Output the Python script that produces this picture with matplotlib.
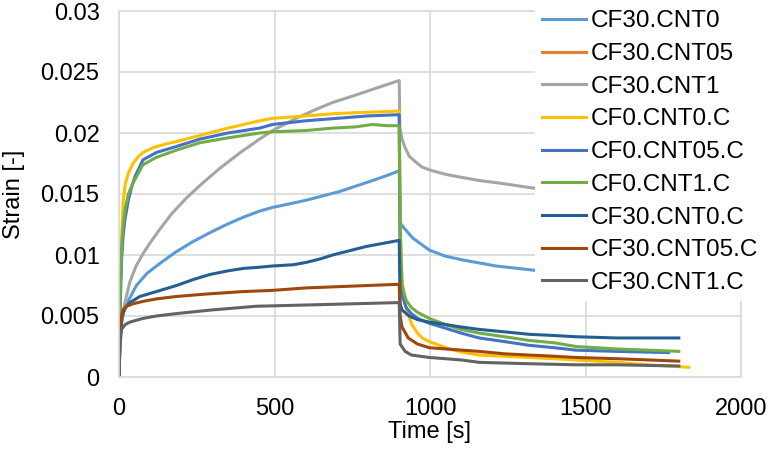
import matplotlib
matplotlib.use("Agg")
import matplotlib.pyplot as plt

plt.rcParams['font.family'] = ['Liberation Sans', 'DejaVu Sans']

# ---- data ----
labels = ["CF30.CNT0", "CF30.CNT05", "CF30.CNT1", "CF0.CNT0.C", "CF0.CNT05.C",
          "CF0.CNT1.C", "CF30.CNT0.C", "CF30.CNT05.C", "CF30.CNT1.C"]
colors = ["#5B9BD5", "#ED7D31", "#A5A5A5", "#FFC000", "#4472C4",
          "#70AD47", "#255E91", "#9E480E", "#636363"]

t_cf30_cnt0 = [0, 5, 15, 35, 56, 90, 131, 180, 238, 290, 346, 400, 452, 494, 550, 603, 709, 815, 860, 901,
               905, 917, 944, 998, 1050, 1104, 1212, 1318, 1450, 1600, 1800]
s_cf30_cnt0 = [0, 0.0040, 0.0053, 0.0065, 0.0075, 0.0085, 0.0093, 0.0102, 0.0111, 0.0118, 0.0125, 0.0131,
               0.0136, 0.0139, 0.0142, 0.0145, 0.0152, 0.0161, 0.0165, 0.0169,
               0.0126, 0.0122, 0.0114, 0.0104, 0.0099, 0.0096, 0.0091, 0.0088, 0.0084, 0.0080, 0.0076]

t_cf30_cnt05 = []
s_cf30_cnt05 = []

t_cf30_cnt1 = [0, 3, 10, 20, 35, 55, 77, 100, 131, 170, 218, 269, 324, 390, 452, 494, 570, 630, 687,
               760, 830, 901, 903, 910, 920, 933, 955, 975, 1008, 1052, 1094, 1160, 1222, 1328,
               1450, 1600, 1800]
s_cf30_cnt1 = [0, 0.0035, 0.0050, 0.0062, 0.0078, 0.0091, 0.0101, 0.0110, 0.0121, 0.0134, 0.0147,
               0.0159, 0.0171, 0.0184, 0.0195, 0.0202, 0.0212, 0.0219, 0.0225, 0.0231, 0.0237, 0.0243,
               0.0205, 0.0195, 0.0188, 0.0181, 0.0176, 0.0172, 0.0169, 0.0166, 0.0164, 0.0161, 0.0159,
               0.0155, 0.0151, 0.0147, 0.0143]

t_cf0_cnt0_c = [0, 3, 8, 13, 20, 30, 45, 60, 77, 110, 150, 185, 260, 350, 452, 494, 600, 700, 800, 901,
                905, 910, 920, 933, 944, 960, 975, 998, 1030, 1062, 1110, 1158, 1240, 1318, 1400, 1469,
                1600, 1700, 1832]
s_cf0_cnt0_c = [0, 0.0060, 0.0110, 0.0143, 0.0158, 0.0167, 0.0175, 0.0180, 0.0184, 0.0188, 0.0191,
                0.0193, 0.0198, 0.0204, 0.0210, 0.0212, 0.0214, 0.0216, 0.0217, 0.0218,
                0.0120, 0.0080, 0.0060, 0.0049, 0.0042, 0.0036, 0.0032, 0.0029, 0.0026, 0.0023, 0.0020,
                0.0018, 0.0017, 0.0016, 0.0015, 0.0014, 0.0012, 0.0010, 0.0008]

t_cf0_cnt05_c = [0, 3, 8, 13, 19, 30, 40, 51, 77, 120, 185, 260, 350, 452, 494, 600, 700, 800, 901,
                 904, 910, 923, 940, 960, 998, 1050, 1100, 1158, 1240, 1318, 1400, 1469, 1600, 1767]
s_cf0_cnt05_c = [0, 0.0050, 0.0095, 0.0115, 0.0129, 0.0145, 0.0155, 0.0164, 0.0178, 0.0184, 0.0189,
                 0.0195, 0.0200, 0.0204, 0.0207, 0.0210, 0.0212, 0.0214, 0.0215,
                 0.0090, 0.0068, 0.0057, 0.0052, 0.0048, 0.0044, 0.0040, 0.0036, 0.0032, 0.0029,
                 0.0026, 0.0024, 0.0022, 0.0021, 0.0020]

t_cf0_cnt1_c = [0, 3, 8, 13, 20, 30, 45, 60, 77, 120, 185, 260, 350, 452, 494, 600, 687, 760, 815,
                860, 901, 904, 910, 923, 940, 960, 998, 1050, 1100, 1158, 1240, 1318, 1400, 1469,
                1600, 1800]
s_cf0_cnt1_c = [0, 0.0060, 0.0105, 0.0123, 0.0138, 0.0150, 0.0159, 0.0166, 0.0174, 0.0180, 0.0186,
                0.0192, 0.0196, 0.0200, 0.0201, 0.0202, 0.0204, 0.0205, 0.0207, 0.0206, 0.0206,
                0.0120, 0.0075, 0.0063, 0.0057, 0.0053, 0.0048, 0.0043, 0.0039, 0.0036, 0.0033,
                0.0030, 0.0028, 0.0025, 0.0023, 0.0021]

t_cf30_cnt0_c = [0, 3, 10, 20, 35, 67, 120, 185, 240, 292, 350, 400, 452, 494, 560, 603, 650, 687, 795, 901,
                 904, 910, 933, 960, 998, 1050, 1100, 1158, 1240, 1318, 1400, 1469, 1600, 1800]
s_cf30_cnt0_c = [0, 0.0030, 0.0050, 0.0057, 0.0061, 0.0066, 0.0070, 0.0075, 0.0080, 0.0084, 0.0087,
                 0.0089, 0.0090, 0.0091, 0.0092, 0.0094, 0.0097, 0.0100, 0.0107, 0.0112,
                 0.0060, 0.0055, 0.0050, 0.0047, 0.0045, 0.0043, 0.0041, 0.0039, 0.0037, 0.0035,
                 0.0034, 0.0033, 0.0032, 0.0032]

t_cf30_cnt05_c = [0, 3, 8, 13, 25, 45, 77, 120, 185, 280, 398, 494, 600, 700, 800, 901,
                  904, 910, 930, 960, 998, 1050, 1158, 1240, 1318, 1400, 1469, 1600, 1800]
s_cf30_cnt05_c = [0, 0.0035, 0.0050, 0.0055, 0.0058, 0.0060, 0.0062, 0.0064, 0.0066, 0.0068, 0.0070,
                  0.0071, 0.0073, 0.0074, 0.0075, 0.0076,
                  0.0050, 0.0041, 0.0032, 0.0027, 0.0024, 0.0023, 0.0021, 0.0019, 0.0018, 0.0017,
                  0.0016, 0.0015, 0.0013]

t_cf30_cnt1_c = [0, 3, 8, 20, 35, 77, 120, 185, 300, 442, 600, 750, 901,
                 904, 920, 940, 998, 1100, 1158, 1300, 1469, 1600, 1800]
s_cf30_cnt1_c = [0, 0.0025, 0.0039, 0.0043, 0.0045, 0.0048, 0.0050, 0.0052, 0.0055, 0.0058, 0.0059,
                 0.0060, 0.0061,
                 0.0027, 0.0021, 0.0018, 0.0016, 0.0014, 0.0012, 0.0011, 0.0010, 0.0010, 0.0009]

series_t = [t_cf30_cnt0, t_cf30_cnt05, t_cf30_cnt1, t_cf0_cnt0_c, t_cf0_cnt05_c, t_cf0_cnt1_c,
            t_cf30_cnt0_c, t_cf30_cnt05_c, t_cf30_cnt1_c]
series_s = [s_cf30_cnt0, s_cf30_cnt05, s_cf30_cnt1, s_cf0_cnt0_c, s_cf0_cnt05_c, s_cf0_cnt1_c,
            s_cf30_cnt0_c, s_cf30_cnt05_c, s_cf30_cnt1_c]

x_ticks = [0, 500, 1000, 1500, 2000]
y_ticks = [0, 0.005, 0.01, 0.015, 0.02, 0.025, 0.03]
y_tick_labels = ["0", "0.005", "0.01", "0.015", "0.02", "0.025", "0.03"]

# ---- figure ----
W, H = 771, 451
fig = plt.figure(figsize=(W / 100, H / 100), dpi=100)
ax = fig.add_axes([119 / W, 1 - 377 / H, (741 - 119) / W, (377 - 11) / H])

for t, s, lab, c in zip(series_t, series_s, labels, colors):
    ax.plot(t, s, color=c, lw=2.2, label=lab, solid_joinstyle='round')

ax.set_xlim(0, 2000)
ax.set_ylim(0, 0.03)
ax.set_xticks(x_ticks)
ax.set_xticklabels([str(v) for v in x_ticks])
ax.set_yticks(y_ticks)
ax.set_yticklabels(y_tick_labels)
grid_c = "#D9D9D9"
ax.grid(True, color=grid_c, lw=1.2)
ax.set_axisbelow(True)
for sp in ax.spines.values():
    sp.set_color(grid_c)
    sp.set_linewidth(1.2)
ax.tick_params(length=0, labelsize=17)
ax.tick_params(axis='y', pad=14)
ax.tick_params(axis='x', pad=15)

ax.set_xlabel("Time [s]", fontsize=17, labelpad=1)
ax.set_ylabel("Strain [-]", fontsize=17, labelpad=11)

leg = ax.legend(loc='upper left', bbox_to_anchor=(535 / W, 1 - 3 / H),
                bbox_transform=fig.transFigure, frameon=True, fontsize=17.5,
                handlelength=1.8, handletextpad=0.2, labelspacing=0.44,
                borderpad=0.3, borderaxespad=0, fancybox=False)
leg.get_frame().set_facecolor("white")
leg.get_frame().set_edgecolor("none")
leg.get_frame().set_alpha(1)

fig.savefig("out.png", dpi=100)
